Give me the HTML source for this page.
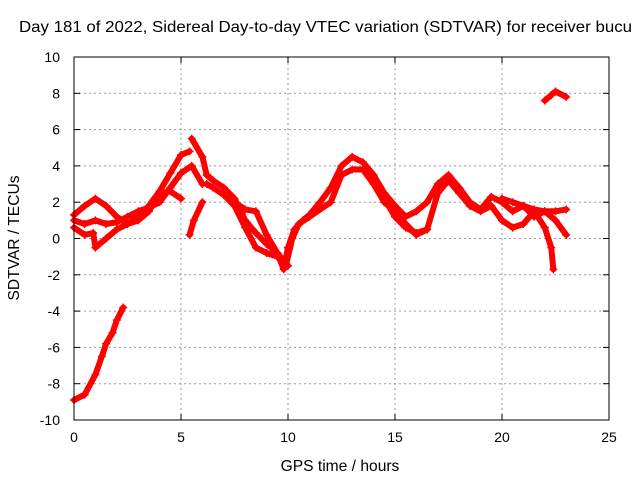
<!DOCTYPE html>
<html><head><meta charset="utf-8"><style>
body{margin:0;background:#fff;}
svg{display:block;font-family:"Liberation Sans",sans-serif;}
</style></head><body>
<svg id="chart" width="640" height="480">
<text x="19" y="32" font-size="15.6" textLength="613" lengthAdjust="spacingAndGlyphs" text-anchor="start">Day 181 of 2022, Sidereal Day-to-day VTEC variation (SDTVAR) for receiver bucu</text>
<text x="340" y="471" font-size="15.6" text-anchor="middle">GPS time / hours</text>
<text transform="translate(19,238) rotate(-90)" font-size="15.6" text-anchor="middle">SDTVAR / TECUs</text>
<g id="grid"></g><g id="marks"></g>
<rect x="74" y="57" width="535" height="363" fill="none" stroke="#000" stroke-width="1"/>
</svg>
<script>
const xTicks=[0,5,10,15,20,25];
const yTicks=[-10,-8,-6,-4,-2,0,2,4,6,8,10];
const seriesA=[[0,1.3],[0.5,1.8],[1,2.2],[1.5,1.8],[2,1.2],[2.5,0.8],[3,1.2],[3.5,1.8],[4,2.6],[4.5,3.6],[5,4.6],[5.4,4.8]];
const seriesB=[[0,1.0],[0.5,0.8],[1,1.0],[1.5,0.8],[2,0.9],[2.5,1.2],[3,1.5],[3.5,1.7],[4,2.0],[4.5,2.8],[5,3.6],[5.5,4.0],[6,3.0]];
const seriesC=[[0,0.6],[0.5,0.2],[0.9,0.3],[1,-0.5],[1.5,0],[2,0.5],[2.5,0.8],[3,1],[3.5,1.5],[4,2.5],[4.5,2.6],[5,2.2]];
const seriesD=[[5.4,0.2],[5.6,1.0],[6,2.0]];
const seriesE=[[5.5,5.5],[6,4.5],[6.2,3.5],[6.5,3.2],[7,2.8],[7.5,2.2],[8,1.0],[8.5,0.3],[9,-0.3],[9.5,-0.8],[9.8,-1.7],[10,-0.5],[10.3,0.5],[10.7,1.0],[11,1.3],[11.5,2.0],[12,2.8],[12.5,4.0],[13,4.5],[13.5,4.2],[14,3.5],[14.5,2.5],[15,1.8],[15.5,1.2],[16,1.5],[16.5,2.0],[17,3.0],[17.5,3.5],[18,2.8],[18.5,2.0],[19,1.6],[19.5,2.3],[20,2.0],[20.5,1.5],[21,1.8],[21.5,1.2],[22,1.5],[22.5,1.5],[23,1.6]];
const seriesF=[[6.2,3.0],[6.5,2.8],[7,2.4],[7.5,1.8],[8,0.6],[8.5,-0.5],[9,-0.8],[9.5,-1.0],[9.9,-1.5],[10.2,0],[10.5,0.8],[11,1.2],[12,2.0],[12.5,3.5],[13,3.8],[13.5,3.8],[14,3.0],[14.5,2.0],[15,1.5],[15.5,0.8],[16,0.2],[16.5,0.5],[17,2.5],[17.5,3.2],[18,2.5],[18.5,1.8],[19,1.5],[19.5,1.8],[20,1.0],[20.5,0.6],[21,0.8],[21.5,1.5],[22,0.6],[22.3,-0.5],[22.4,-1.7]];
const seriesG=[[7.5,2.0],[8,1.6],[8.5,1.5],[9,0.2],[9.5,-0.8],[10,-1.5]];
const seriesH=[[14.5,2.2],[15,1.2],[15.5,0.6],[16,0.3],[16.5,0.5]];
const seriesI=[[20,2.2],[20.5,2.0],[21,1.8],[21.5,1.6],[22,1.5],[22.5,1.0],[23,0.2]];
const seriesJ=[[0,-8.9],[0.5,-8.6],[1,-7.5],[1.3,-6.5],[1.5,-5.8],[1.8,-5.2],[2,-4.5],[2.3,-3.8]];
const seriesK=[[22,7.6],[22.3,7.9],[22.5,8.1],[23,7.8]];
const allSeries=[seriesA,seriesB,seriesC,seriesD,seriesE,seriesF,seriesG,seriesH,seriesI,seriesJ,seriesK];
const X0=74,X1=609,Y0=420,Y1=57;
const xs=v=>X0+(v-0)/25*(X1-X0);
const ys=v=>Y0-(v+10)/20*(Y0-Y1);
const NS="http://www.w3.org/2000/svg";
const grid=document.getElementById('grid'),marks=document.getElementById('marks');
function mk(tag,attrs,parent){const e=document.createElementNS(NS,tag);for(const k in attrs)e.setAttribute(k,attrs[k]);parent.appendChild(e);return e;}
xTicks.forEach(t=>{const x=xs(t);
 if(t>0&&t<25){const g=mk('line',{x1:x,x2:x,y1:Y0,y2:Y1,stroke:'#999','stroke-dasharray':'2,3'},grid);
 
 }
 mk('line',{x1:x,x2:x,y1:Y0,y2:Y0-6,stroke:'#000'},grid);
 mk('line',{x1:x,x2:x,y1:Y1,y2:Y1+6,stroke:'#000'},grid);
 const l=mk('text',{x:x,y:Y0+22,'font-size':14,'text-anchor':'middle'},grid);l.textContent=t;
 
 });
yTicks.forEach(t=>{const y=ys(t);
 if(t>-10&&t<10){const g=mk('line',{x1:X0,x2:X1,y1:y,y2:y,stroke:'#999','stroke-dasharray':'2,3'},grid);
 
 }
 mk('line',{x1:X0,x2:X0+6,y1:y,y2:y,stroke:'#000'},grid);
 mk('line',{x1:X1,x2:X1-6,y1:y,y2:y,stroke:'#000'},grid);
 const l=mk('text',{x:X0-14,y:y+5,'font-size':14,'text-anchor':'end'},grid);l.textContent=t;
 
 });
allSeries.forEach((s,i)=>{
 const p=mk('polyline',{points:s.map(d=>xs(d[0])+','+ys(d[1])).join(' '),fill:'none',stroke:'#f00','stroke-width':6,'stroke-linejoin':'round','stroke-linecap':'round'},marks);
 
 
 s.forEach(d=>{const x=xs(d[0]),y=ys(d[1]);
  const m=mk('path',{d:`M${x-4},${y}h8M${x},${y-4}v8`,stroke:'#f00','stroke-width':1.5},marks);
  
  });
});
</script>
</body></html>
